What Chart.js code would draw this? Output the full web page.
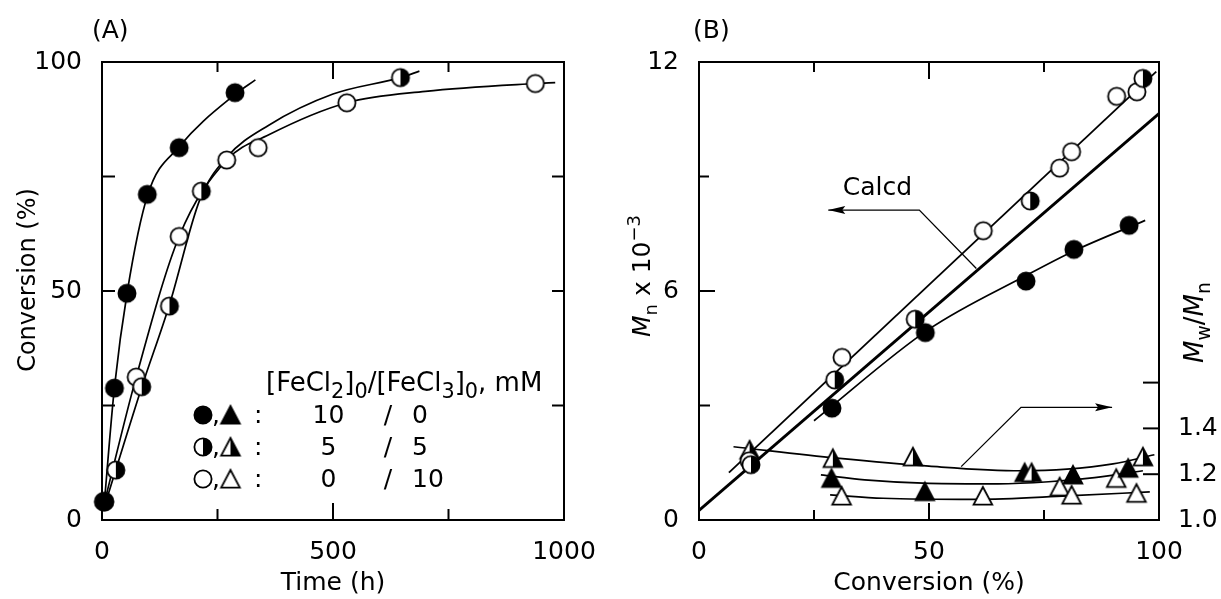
<!DOCTYPE html>
<html>
<head>
<meta charset="utf-8">
<script src="https://cdn.jsdelivr.net/npm/chart.js@4.4.1/dist/chart.umd.min.js"></script>
<style>
  html, body { margin: 0; background: #fff; }
  #wrap { position: relative; width: 1221px; height: 599px; }
  canvas { position: absolute; top: 0; }
  #chartA { left: 0; }
  #chartB { left: 610px; }
</style>
</head>
<body>
<div id="wrap">
  <canvas id="chartA" width="613" height="599"></canvas>
  <canvas id="chartB" width="611" height="599"></canvas>
</div>
<script>
// ---- (A) conversion vs. time, [FeCl2]0/[FeCl3]0 = 10/0, 5/5, 0/10 mM ----
const timeFe10 = [6, 27, 54, 98, 167, 288];
const convFe10 = [4, 28.8, 49.5, 71.1, 81.3, 93.3];
const timeFe5 = [5, 30, 86, 146, 215, 646];
const convFe5 = [4, 10.9, 29.1, 46.7, 71.8, 96.6];
const timeFe0 = [3, 74, 167, 270, 338, 530, 938];
const convFe0 = [4, 31.2, 61.9, 78.6, 81.3, 91.1, 95.3];

// hand-drawn guide curves
const curveTimeFe10 = [4, 27, 55, 99, 167, 289, 332];
const curveConvFe10 = [2.5, 29, 50, 71, 81.5, 93, 96.1];
const curveTimeFe5 = [4, 30, 86, 146, 212, 270, 361, 500, 646, 687];
const curveConvFe5 = [2.5, 11, 29, 47, 70, 79.2, 86.2, 93, 96.6, 98];
const curveTimeFe0 = [2, 74, 167, 270, 361, 530, 700, 938, 981];
const curveConvFe0 = [2.5, 31.2, 61.9, 78.6, 84.1, 91.1, 93.6, 95.3, 95.5];

// ---- (B) Mn and Mw/Mn vs. conversion ----
const convMnFe10 = [28.9, 49.2, 71.1, 81.5, 93.5];
const mnFe10 = [2.93, 4.91, 6.26, 7.09, 7.72];
const convMnFe5 = [11.3, 29.5, 47.0, 72.0, 96.5];
const mnFe5 = [1.45, 3.67, 5.26, 8.36, 11.57];
const convMnFe0 = [10.9, 31.1, 61.8, 78.4, 81.0, 90.8, 95.2];
const mnFe0 = [1.55, 4.26, 7.58, 9.22, 9.65, 11.1, 11.22];

const convPdiFe10 = [28.8, 49.1, 70.8, 81.3, 93.3];
const pdiFe10 = [1.182, 1.124, 1.207, 1.197, 1.226];
const convPdiFe5 = [11, 29.1, 46.5, 72.3, 96.5];
const pdiFe5 = [1.306, 1.269, 1.276, 1.207, 1.276];
const convPdiFe0 = [31.0, 61.7, 78.4, 81.0, 90.7, 95.1];
const pdiFe0 = [1.105, 1.105, 1.145, 1.109, 1.182, 1.117];

const lineConvMn = [6.5, 99.4];
const lineMn = [1.24, 11.75];
const calcdConv = [0, 100];
const calcdMn = [0.25, 10.65];
const curveConvMnFe10 = [25, 50, 71, 81.5, 97];
const curveMnFe10 = [2.6, 5.0, 6.4, 7.05, 7.85];

const curveConvPdiFe5 = [7.5, 30, 50, 70, 80, 90, 99];
const curvePdiFe5 = [1.32, 1.27, 1.235, 1.215, 1.222, 1.245, 1.285];
const curveConvPdiFe10 = [26.5, 36, 50, 65, 76, 86, 96.5];
const curvePdiFe10 = [1.197, 1.175, 1.16, 1.158, 1.167, 1.185, 1.215];
const curveConvPdiFe0 = [28.5, 40, 60, 80, 98];
const curvePdiFe0 = [1.11, 1.095, 1.09, 1.105, 1.123];

// tick marks (inside the frame) and legend entries
const ticksTime = [250, 500, 750];
const ticksConvA = [25, 50, 75];
const ticksConvB = [25, 50, 75];
const ticksMn = [3, 6, 9];
const ticksPdi = [1.2, 1.4, 1.6];
const legendFeCl2 = ['10', '5', '0'];
const legendFeCl3 = ['0', '5', '10'];

const FONT = '"DejaVu Sans"';
Chart.defaults.font.family = FONT;
Chart.defaults.color = '#000';

const pts = (xs, ys) => xs.map((x, i) => ({ x: x, y: ys[i] }));

function marker(shape, fill) {
  const c = document.createElement('canvas');
  c.width = c.height = 24;
  const g = c.getContext('2d');
  const outline = () => {
    g.beginPath();
    if (shape === 'circle') g.arc(12, 12, 8.6, 0, Math.PI * 2);
    else { g.moveTo(12, 3); g.lineTo(21.3, 20.6); g.lineTo(2.7, 20.6); g.closePath(); }
  };
  outline();
  g.fillStyle = fill === 'full' ? '#000' : '#fff';
  g.fill();
  if (fill === 'half') {
    g.beginPath();
    if (shape === 'circle') { g.arc(12, 12, 8.6, -Math.PI / 2, Math.PI / 2); g.closePath(); }
    else { g.moveTo(12, 3); g.lineTo(21.3, 20.6); g.lineTo(12, 20.6); g.closePath(); }
    g.fillStyle = '#000';
    g.fill();
  }
  outline();
  g.lineWidth = 1.8;
  g.strokeStyle = '#000';
  g.stroke();
  return c;
}
const circFull = marker('circle', 'full'), circHalf = marker('circle', 'half'), circOpen = marker('circle', 'none');
const triFull = marker('tri', 'full'), triHalf = marker('tri', 'half'), triOpen = marker('tri', 'none');

function points(data, style, yAxisID) {
  return { data: data, pointStyle: style, pointRadius: 10, showLine: false, clip: false, yAxisID: yAxisID || 'y' };
}
function curve(data, width, smooth, yAxisID) {
  return {
    data: data, showLine: true, pointRadius: 0, borderColor: '#000', borderWidth: width,
    cubicInterpolationMode: smooth ? 'monotone' : 'default', tension: 0, yAxisID: yAxisID || 'y'
  };
}

// frame plus inward tick marks
function frameTicks(marks) {
  return {
    id: 'frameTicks',
    afterDatasetsDraw(chart) {
      const { ctx, chartArea: a } = chart;
      ctx.save();
      ctx.strokeStyle = '#000';
      ctx.lineWidth = 2;
      ctx.strokeRect(a.left, a.top, a.right - a.left, a.bottom - a.top);
      for (const m of marks) {
        const s = chart.scales[m.scale];
        m.values.forEach((v, i) => {
          const p = s.getPixelForValue(v), len = m.lengths[i];
          ctx.beginPath();
          if (m.side === 'bottom') { ctx.moveTo(p, a.bottom); ctx.lineTo(p, a.bottom - len); }
          else if (m.side === 'top') { ctx.moveTo(p, a.top); ctx.lineTo(p, a.top + len); }
          else if (m.side === 'left') { ctx.moveTo(a.left, p); ctx.lineTo(a.left + len, p); }
          else { ctx.moveTo(a.right, p); ctx.lineTo(a.right - len, p); }
          ctx.stroke();
        });
      }
      ctx.restore();
    }
  };
}

// text with italic / subscript / superscript runs
function richText(ctx, x, y, parts, size, small) {
  for (const [txt, st] of parts) {
    const px = (st === 'sub' || st === 'sup') ? size * (small || 0.72) : size;
    ctx.font = (st === 'i' ? 'italic ' : '') + px + 'px ' + FONT;
    const dy = st === 'sub' ? size * 0.28 : st === 'sup' ? -size * 0.42 : 0;
    ctx.fillText(txt, x, y + dy);
    x += ctx.measureText(txt).width;
  }
}

function arrow(ctx, p) {
  ctx.beginPath();
  ctx.moveTo(p[0][0], p[0][1]);
  for (let i = 1; i < p.length; i++) ctx.lineTo(p[i][0], p[i][1]);
  ctx.stroke();
  const [x1, y1] = p[p.length - 2], [x2, y2] = p[p.length - 1];
  ctx.save();
  ctx.translate(x2, y2);
  ctx.rotate(Math.atan2(y2 - y1, x2 - x1));
  ctx.beginPath();
  ctx.moveTo(0, 0); ctx.lineTo(-17, -4); ctx.lineTo(-14, 0); ctx.lineTo(-17, 4);
  ctx.closePath();
  ctx.fill();
  ctx.restore();
}

const tickFont = { size: 25 };
const titleFont = { size: 25 };
const noGrid = { display: false, drawTicks: false };
const plainNumber = v => String(v);

const textA = {
  id: 'textA',
  afterDraw(chart) {
    const ctx = chart.ctx;
    ctx.save();
    ctx.fillStyle = '#000';
    ctx.textBaseline = 'alphabetic';
    ctx.textAlign = 'left';
    ctx.font = '25px ' + FONT;
    ctx.fillText('(A)', 92, 38);

    ctx.save();
    ctx.translate(35, 280);
    ctx.rotate(-Math.PI / 2);
    ctx.textAlign = 'center';
    ctx.font = '24px ' + FONT;
    ctx.fillText('Conversion (%)', 0, 0);
    ctx.restore();

    richText(ctx, 266, 391, [['[FeCl', ''], ['2', 'sub'], [']', ''], ['0', 'sub'], ['/[FeCl', ''], ['3', 'sub'], [']', ''], ['0', 'sub'], [', mM', '']], 26, 0.8);

    const rows = [[circFull, triFull], [circHalf, triHalf], [circOpen, triOpen]];
    ctx.font = '25px ' + FONT;
    rows.forEach((r, i) => {
      const base = 423 + i * 32, mid = base - 8;
      ctx.drawImage(r[0], 203 - 12, mid - 12);
      ctx.drawImage(r[1], 230.5 - 12, mid - 12);
      ctx.textAlign = 'left';
      ctx.fillText(',', 212, base);
      ctx.fillText(':', 254, base);
      ctx.textAlign = 'center';
      ctx.fillText(legendFeCl2[i], 328.5, base);
      ctx.fillText('/', 388, base);
      ctx.textAlign = 'left';
      ctx.fillText(legendFeCl3[i], 412, base);
    });
    ctx.restore();
  }
};

new Chart(document.getElementById('chartA'), {
  type: 'scatter',
  data: {
    datasets: [
      points(pts(timeFe10, convFe10), circFull),
      points(pts(timeFe5, convFe5), circHalf),
      points(pts(timeFe0, convFe0), circOpen),
      curve(pts(curveTimeFe10, curveConvFe10), 1.7, true),
      curve(pts(curveTimeFe5, curveConvFe5), 1.7, true),
      curve(pts(curveTimeFe0, curveConvFe0), 1.7, true)
    ]
  },
  options: {
    responsive: false,
    animation: false,
    events: [],
    layout: { padding: { top: 62, right: 0, left: 0, bottom: 0 } },
    plugins: { legend: { display: false }, tooltip: { enabled: false } },
    scales: {
      x: {
        type: 'linear', min: 0, max: 1000,
        grid: noGrid, border: { display: false },
        ticks: { stepSize: 500, padding: 17, font: tickFont, maxRotation: 0, callback: plainNumber },
        title: { display: true, text: 'Time (h)', font: titleFont, padding: { top: 0, bottom: 1 } },
        afterFit: s => { s.height = 79; }
      },
      y: {
        type: 'linear', min: 0, max: 100,
        grid: noGrid, border: { display: false },
        ticks: { stepSize: 50, padding: 20, font: tickFont, callback: plainNumber },
        afterFit: s => { s.width = 102; }
      },
      // unlabeled right axis, holds the room for the last time label
      yRight: {
        type: 'linear', position: 'right', min: 0, max: 100,
        grid: noGrid, border: { display: false },
        ticks: { display: false },
        afterFit: s => { s.width = 49; }
      }
    }
  },
  plugins: [frameTicks([
    { scale: 'x', side: 'bottom', values: ticksTime, lengths: [11, 17, 11] },
    { scale: 'x', side: 'top', values: ticksTime, lengths: [10, 17, 10] },
    { scale: 'y', side: 'left', values: ticksConvA, lengths: [13, 13, 13] },
    { scale: 'yRight', side: 'right', values: ticksConvA, lengths: [12, 12, 12] }
  ]), textA]
});

const textB = {
  id: 'textB',
  afterDraw(chart) {
    const ctx = chart.ctx, x = chart.scales.x, y = chart.scales.y, y2 = chart.scales.y2;
    ctx.save();
    ctx.fillStyle = '#000';
    ctx.strokeStyle = '#000';
    ctx.textBaseline = 'alphabetic';
    ctx.textAlign = 'left';
    ctx.font = '25px ' + FONT;
    ctx.fillText('(B)', 83, 38);

    ctx.save();
    ctx.translate(40, 337);
    ctx.rotate(-Math.PI / 2);
    richText(ctx, 0, 0, [['M', 'i'], ['n', 'sub'], [' x 10', ''], ['\u22123', 'sup']], 25);
    ctx.restore();

    ctx.save();
    ctx.translate(593, 363);
    ctx.rotate(-Math.PI / 2);
    richText(ctx, 0, 0, [['M', 'i'], ['w', 'sub'], ['/', ''], ['M', 'i'], ['n', 'sub']], 26);
    ctx.restore();

    ctx.font = '25px ' + FONT;
    ctx.textAlign = 'center';
    ctx.fillText('Calcd', x.getPixelForValue(38.8), y.getPixelForValue(8.51));

    ctx.lineWidth = 1.3;
    arrow(ctx, [[60.3, 6.59], [47.9, 8.12], [28.1, 8.12]].map(p => [x.getPixelForValue(p[0]), y.getPixelForValue(p[1])]));
    arrow(ctx, [[57, 1.233], [70, 1.492], [89.8, 1.492]].map(p => [x.getPixelForValue(p[0]), y2.getPixelForValue(p[1])]));
    ctx.restore();
  }
};

new Chart(document.getElementById('chartB'), {
  type: 'scatter',
  data: {
    datasets: [
      points(pts(convMnFe5, mnFe5), circHalf),
      points(pts(convMnFe0, mnFe0), circOpen),
      points(pts(convMnFe10, mnFe10), circFull),
      points(pts(convPdiFe5, pdiFe5), triHalf, 'y2'),
      points(pts(convPdiFe10, pdiFe10), triFull, 'y2'),
      points(pts(convPdiFe0, pdiFe0), triOpen, 'y2'),
      curve(pts(lineConvMn, lineMn), 1.8, false),
      curve(pts(calcdConv, calcdMn), 3, false),
      curve(pts(curveConvMnFe10, curveMnFe10), 1.7, true),
      curve(pts(curveConvPdiFe5, curvePdiFe5), 1.7, true, 'y2'),
      curve(pts(curveConvPdiFe10, curvePdiFe10), 1.7, true, 'y2'),
      curve(pts(curveConvPdiFe0, curvePdiFe0), 1.7, true, 'y2')
    ]
  },
  options: {
    responsive: false,
    animation: false,
    events: [],
    layout: { padding: { top: 62, right: 0, left: 0, bottom: 0 } },
    plugins: { legend: { display: false }, tooltip: { enabled: false } },
    scales: {
      x: {
        type: 'linear', min: 0, max: 100,
        grid: noGrid, border: { display: false },
        ticks: { stepSize: 50, padding: 17, font: tickFont, maxRotation: 0, callback: plainNumber },
        title: { display: true, text: 'Conversion (%)', font: titleFont, padding: { top: 0, bottom: 1 } },
        afterFit: s => { s.height = 79; }
      },
      y: {
        type: 'linear', position: 'left', min: 0, max: 12,
        grid: noGrid, border: { display: false },
        ticks: { stepSize: 6, padding: 20, font: tickFont, callback: plainNumber },
        afterFit: s => { s.width = 89; }
      },
      y2: {
        type: 'linear', position: 'right', min: 1, max: 3,
        grid: noGrid, border: { display: false },
        ticks: {
          stepSize: 0.2, padding: 19, font: tickFont, autoSkip: false,
          callback: v => (v < 1.45 ? v.toFixed(1) : '')
        },
        afterFit: s => { s.width = 62; }
      }
    }
  },
  plugins: [frameTicks([
    { scale: 'x', side: 'bottom', values: ticksConvB, lengths: [10, 17, 10] },
    { scale: 'x', side: 'top', values: ticksConvB, lengths: [10, 17, 10] },
    { scale: 'y', side: 'left', values: ticksMn, lengths: [11, 16, 10] },
    { scale: 'y2', side: 'right', values: ticksPdi, lengths: [16, 16, 16] }
  ]), textB]
});
</script>
</body>
</html>
